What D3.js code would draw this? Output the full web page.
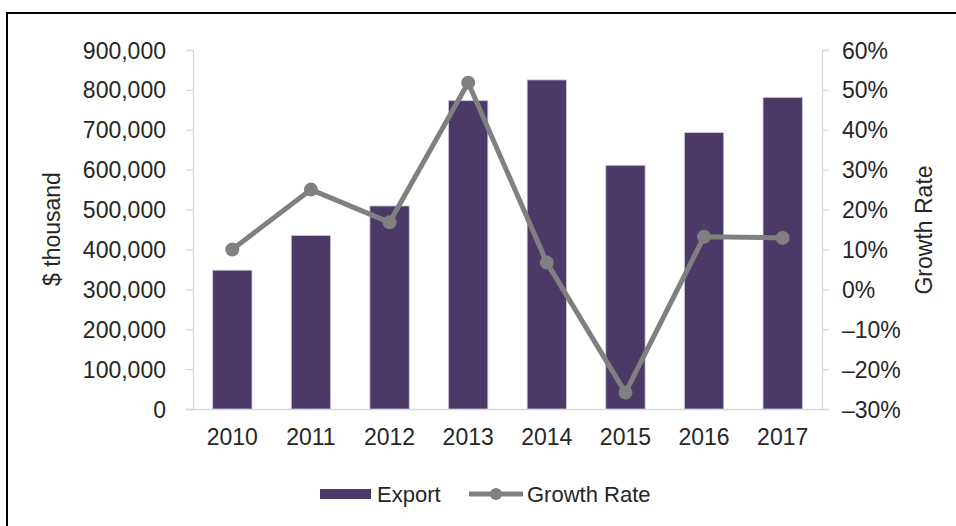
<!DOCTYPE html>
<html>
<head>
<meta charset="utf-8">
<script src="https://cdn.jsdelivr.net/npm/d3@7"></script>
<style>
  body { margin: 0; background: #fff; }
  svg { display: block; font-family: "Liberation Sans", Arial, sans-serif; }
  .axis text { fill: #262626; font-size: 23px; }
  .axis path, .axis line { stroke: #d9d9d9; stroke-width: 1.3; }
</style>
</head>
<body>
<svg width="956" height="526"></svg>
<script>
const years = ["2010", "2011", "2012", "2013", "2014", "2015", "2016", "2017"];
const exportValues = [348000, 435000, 509000, 773000, 825000, 611000, 693000, 781000];
const growthRate = [0.10, 0.25, 0.168, 0.518, 0.067, -0.259, 0.132, 0.129];
const leftTicks = [0, 100000, 200000, 300000, 400000, 500000, 600000, 700000, 800000, 900000];
const rightTicks = [-0.3, -0.2, -0.1, 0, 0.1, 0.2, 0.3, 0.4, 0.5, 0.6];

const svg = d3.select("svg");
const width = +svg.attr("width");
const height = +svg.attr("height");

const barColor = "#4b3a68";
const lineColor = "#808080";

// frame
svg.append("path")
  .attr("d", `M7,${height + 2}V13H${width + 2}`)
  .attr("fill", "none")
  .attr("stroke", "#000")
  .attr("stroke-width", 2);

const plot = { left: 193, right: 822, top: 50, bottom: 409 };

const x = d3.scaleBand()
  .domain(years)
  .range([plot.left, plot.right])
  .paddingInner(0.5)
  .paddingOuter(0.25);

const yLeft = d3.scaleLinear().domain([0, 900000]).range([plot.bottom, plot.top]);
const yRight = d3.scaleLinear().domain([-0.3, 0.6]).range([plot.bottom, plot.top]);

const fmtNum = d3.format(",");
const fmtPct = d => (d < 0 ? "\u2013" : "") + Math.round(Math.abs(d) * 100) + "%";

// left axis
const gl = svg.append("g")
  .attr("class", "axis")
  .attr("transform", `translate(${plot.left},0)`)
  .call(d3.axisLeft(yLeft).tickValues(leftTicks).tickFormat(fmtNum).tickSize(7).tickSizeOuter(7).tickPadding(20));
gl.selectAll("text").attr("dy", "0.35em");

// right axis
const gr = svg.append("g")
  .attr("class", "axis")
  .attr("transform", `translate(${plot.right},0)`)
  .call(d3.axisRight(yRight).tickValues(rightTicks).tickFormat(fmtPct).tickSize(7).tickSizeOuter(7).tickPadding(13));
gr.selectAll("text").attr("dy", "0.35em");

// bottom axis
const gb = svg.append("g")
  .attr("class", "axis")
  .attr("transform", `translate(0,${plot.bottom})`)
  .call(d3.axisBottom(x).tickSize(0).tickPadding(20));
gb.select(".domain").attr("d", `M${plot.left - 7},0.5H${plot.right}`);
gb.selectAll("text").attr("dy", "0.71em");

// bars
svg.append("g")
  .selectAll("rect")
  .data(years)
  .join("rect")
  .attr("x", d => x(d))
  .attr("width", x.bandwidth())
  .attr("y", (d, i) => yLeft(exportValues[i]))
  .attr("height", (d, i) => yLeft(0) - yLeft(exportValues[i]))
  .attr("fill", barColor)
  .attr("stroke", "#cfc8d8")
  .attr("stroke-width", 0.8);

// growth line
const cx = d => x(d) + x.bandwidth() / 2;
const line = d3.line()
  .x(d => cx(d))
  .y((d, i) => yRight(growthRate[i]));

svg.append("path")
  .datum(years)
  .attr("d", line)
  .attr("fill", "none")
  .attr("stroke", lineColor)
  .attr("stroke-width", 5)
  .attr("stroke-linejoin", "round");

svg.append("g")
  .selectAll("circle")
  .data(years)
  .join("circle")
  .attr("cx", d => cx(d))
  .attr("cy", (d, i) => yRight(growthRate[i]))
  .attr("r", 7)
  .attr("fill", lineColor);

// axis titles
svg.append("text")
  .attr("transform", "translate(60,229) rotate(-90)")
  .attr("text-anchor", "middle")
  .attr("fill", "#262626")
  .attr("font-size", 23)
  .text("$ thousand");

svg.append("text")
  .attr("transform", "translate(932,230) rotate(-90)")
  .attr("text-anchor", "middle")
  .attr("fill", "#262626")
  .attr("font-size", 23)
  .text("Growth Rate");

// legend
const legend = svg.append("g").attr("transform", "translate(0,494)");
legend.append("rect")
  .attr("x", 320).attr("y", -5)
  .attr("width", 51).attr("height", 10)
  .attr("fill", barColor);
legend.append("text")
  .attr("x", 377).attr("y", 0).attr("dy", "0.35em")
  .attr("fill", "#262626").attr("font-size", 22)
  .text("Export");
legend.append("line")
  .attr("x1", 469).attr("x2", 523)
  .attr("stroke", lineColor).attr("stroke-width", 5);
legend.append("circle")
  .attr("cx", 496).attr("r", 6)
  .attr("fill", lineColor);
legend.append("text")
  .attr("x", 527).attr("y", 0).attr("dy", "0.35em")
  .attr("fill", "#262626").attr("font-size", 22)
  .text("Growth Rate");
</script>
</body>
</html>
